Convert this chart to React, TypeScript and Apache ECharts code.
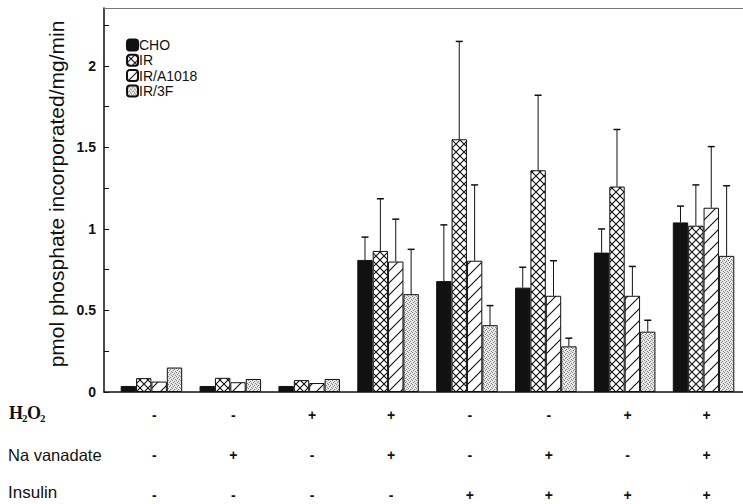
import React, { useEffect, useRef } from "react";
import * as echarts from "echarts";

// Treatment conditions for each group of bars
const h2o2 = ["-", "-", "+", "+", "-", "-", "+", "+"];
const vanadate = ["-", "+", "-", "+", "-", "+", "-", "+"];
const insulin = ["-", "-", "-", "-", "+", "+", "+", "+"];

const seriesNames = ["CHO", "IR", "IR/A1018", "IR/3F"];

// Mean phosphate incorporation (pmol/mg/min)
const cho = [0.037, 0.037, 0.037, 0.81, 0.68, 0.64, 0.855, 1.04];
const ir = [0.085, 0.087, 0.073, 0.865, 1.55, 1.36, 1.26, 1.02];
const irA1018 = [0.064, 0.06, 0.055, 0.8, 0.805, 0.59, 0.59, 1.13];
const ir3f = [0.15, 0.08, 0.08, 0.6, 0.41, 0.28, 0.37, 0.835];

// Upper error (SE) for each mean
const choErr = [0, 0, 0, 0.14, 0.345, 0.125, 0.145, 0.1];
const irErr = [0, 0, 0, 0.32, 0.6, 0.46, 0.35, 0.25];
const irA1018Err = [0, 0, 0, 0.26, 0.465, 0.215, 0.18, 0.375];
const ir3fErr = [0, 0, 0, 0.275, 0.12, 0.05, 0.07, 0.43];

const yTicks = [0, 0.5, 1, 1.5, 2];
const Y_MAX = 2.355;
const BAR_GAP = 0.22;

const FONT = "'Liberation Sans', Arial, Helvetica, sans-serif";
const SERIF = "'Liberation Serif', 'Times New Roman', serif";

function makeTile(size: number, draw: (ctx: CanvasRenderingContext2D) => void) {
  const c = document.createElement("canvas");
  c.width = size;
  c.height = size;
  const ctx = c.getContext("2d")!;
  draw(ctx);
  return { image: c, repeat: "repeat", imageWidth: size, imageHeight: size } as any;
}

function crossHatch() {
  return makeTile(8, (ctx) => {
    ctx.fillStyle = "#fff";
    ctx.fillRect(0, 0, 8, 8);
    ctx.strokeStyle = "#111";
    ctx.lineWidth = 1.1;
    ctx.beginPath();
    ctx.moveTo(-1, -1);
    ctx.lineTo(9, 9);
    ctx.moveTo(9, -1);
    ctx.lineTo(-1, 9);
    ctx.stroke();
  });
}

function diagonal() {
  return makeTile(12, (ctx) => {
    ctx.fillStyle = "#fff";
    ctx.fillRect(0, 0, 12, 12);
    ctx.strokeStyle = "#111";
    ctx.lineWidth = 1.1;
    ctx.beginPath();
    ctx.moveTo(-1, 13);
    ctx.lineTo(13, -1);
    ctx.moveTo(-2, 2);
    ctx.lineTo(2, -2);
    ctx.moveTo(10, 14);
    ctx.lineTo(14, 10);
    ctx.stroke();
  });
}

function stipple() {
  return makeTile(4, (ctx) => {
    ctx.fillStyle = "#e4e4e4";
    ctx.fillRect(0, 0, 4, 4);
    ctx.fillStyle = "#8a8a8a";
    ctx.fillRect(0, 0, 1, 1);
    ctx.fillRect(2, 1, 1, 1);
    ctx.fillRect(1, 2, 1, 1);
    ctx.fillRect(3, 3, 1, 1);
  });
}

export default function App() {
  const ref = useRef<HTMLDivElement>(null);

  useEffect(() => {
    if (!ref.current) return;
    const chart = echarts.init(ref.current, undefined, { renderer: "svg" });

    const values = [cho, ir, irA1018, ir3f];
    const errs = [choErr, irErr, irA1018Err, ir3fErr];
    const fills: any[] = ["#111", crossHatch(), diagonal(), stipple()];

    const errData: number[][] = [];
    values.forEach((vals, s) => {
      vals.forEach((v, i) => {
        if (errs[s][i] > 0) errData.push([i, v + errs[s][i], v, s]);
      });
    });

    const barSeries = seriesNames.map((name, s) => ({
      name,
      type: "bar",
      xAxisIndex: 2,
      yAxisIndex: 1,
      barGap: "0%",
      barCategoryGap: BAR_GAP * 100 + "%",
      data: values[s],
      itemStyle: {
        color: fills[s],
        borderColor: "#111",
        borderWidth: 1,
      },
      emphasis: { disabled: true },
    }));

    const errStyle = { stroke: "#111", lineWidth: 1 };

    chart.setOption({
      animation: false,
      backgroundColor: "#fff",
      legend: {
        data: seriesNames,
        orient: "vertical",
        left: 121,
        top: 33,
        itemWidth: 11,
        itemHeight: 11,
        itemGap: 1.3,
        selectedMode: false,
        textStyle: {
          fontFamily: FONT,
          fontSize: 14,
          lineHeight: 14,
          color: "#111",
          padding: [0, 0, 0, -4],
        },
      },
      grid: [
        { left: 104, right: 0, top: 8, bottom: 112 },
        { left: 112, width: 634, top: 8, bottom: 112 },
      ],
      xAxis: [
        {
          gridIndex: 0,
          type: "value",
          min: 0,
          max: 1,
          axisLine: { show: true, lineStyle: { color: "#111", width: 1.5 } },
          axisTick: { show: false },
          axisLabel: { show: false },
          splitLine: { show: false },
        },
        {
          gridIndex: 0,
          type: "value",
          position: "top",
          min: 0,
          max: 1,
          axisLine: { show: true, lineStyle: { color: "#777", width: 1 } },
          axisTick: { show: false },
          axisLabel: { show: false },
          splitLine: { show: false },
        },
        {
          gridIndex: 1,
          type: "category",
          data: h2o2.map((_, i) => String(i)),
          axisLine: { show: false },
          axisTick: { show: false },
          axisLabel: {
            margin: 3,
            interval: 0,
            formatter: (_: string, i: number) =>
              `{s|${h2o2[i]}}\n{s|${vanadate[i]}}\n{s|${insulin[i]}}`,
            rich: {
              s: {
                fontFamily: FONT,
                fontSize: 14,
                fontWeight: "bold",
                color: "#111",
                lineHeight: 40,
                padding: [0, 0, 0, 6],
              },
            },
          },
        },
      ],
      yAxis: [
        {
          gridIndex: 0,
          type: "value",
          min: 0,
          max: Y_MAX,
          interval: 0.25,
          axisLine: { show: true, lineStyle: { color: "#111", width: 1.5 } },
          axisTick: { show: true, inside: true, length: 5, lineStyle: { color: "#111" } },
          axisLabel: {
            margin: 8,
            showMaxLabel: false,
            fontFamily: FONT,
            fontSize: 14,
            fontWeight: "bold",
            color: "#111",
            formatter: (v: number) => {
              const t = yTicks.find((k) => Math.abs(k - v) < 1e-6);
              return t === undefined ? "" : String(t);
            },
          },
          splitLine: { show: false },
        },
        {
          gridIndex: 1,
          type: "value",
          min: 0,
          max: Y_MAX,
          show: false,
          splitLine: { show: false },
        },
      ],
      series: [
        ...barSeries,
        {
          name: "err",
          type: "custom",
          xAxisIndex: 2,
          yAxisIndex: 1,
          encode: { x: 0, y: 1 },
          data: errData,
          z: 3,
          renderItem: (_params: any, api: any) => {
            const band = api.size([1, 0])[0];
            const barW = (band * (1 - BAR_GAP)) / 4;
            const s = api.value(3);
            const top = api.coord([api.value(0), api.value(1)]);
            const base = api.coord([api.value(0), api.value(2)]);
            const x = top[0] + (s - 1.5) * barW;
            return {
              type: "group",
              children: [
                { type: "line", shape: { x1: x, y1: base[1], x2: x, y2: top[1] }, style: errStyle },
                { type: "line", shape: { x1: x - 3.5, y1: top[1], x2: x + 3.5, y2: top[1] }, style: { ...errStyle, lineWidth: 1.5 } },
              ],
            };
          },
        },
      ],
      graphic: [
        {
          type: "text",
          x: 56,
          y: 194,
          rotation: Math.PI / 2,
          style: {
            text: "pmol phosphate incorporated/mg/min",
            font: `21px ${FONT}`,
            fill: "#111",
            align: "center",
            verticalAlign: "middle",
          },
        },
        { type: "text", left: 9, top: 404, style: { text: "H", font: `bold 18px ${SERIF}`, fill: "#111" } },
        { type: "text", left: 22, top: 412, style: { text: "2", font: `bold 11px ${SERIF}`, fill: "#111" } },
        { type: "text", left: 27, top: 404, style: { text: "O", font: `bold 18px ${SERIF}`, fill: "#111" } },
        { type: "text", left: 40, top: 412, style: { text: "2", font: `bold 11px ${SERIF}`, fill: "#111" } },
        { type: "text", left: 8, top: 446, style: { text: "Na vanadate", font: `16.5px ${FONT}`, fill: "#111" } },
        { type: "text", left: 8, top: 484, style: { text: "Insulin", font: `17px ${FONT}`, fill: "#111" } },
      ],
    });

    return () => chart.dispose();
  }, []);

  return (
    <div
      ref={ref}
      style={{ position: "fixed", left: 0, top: 0, width: 743, height: 504, background: "#fff" }}
    />
  );
}
